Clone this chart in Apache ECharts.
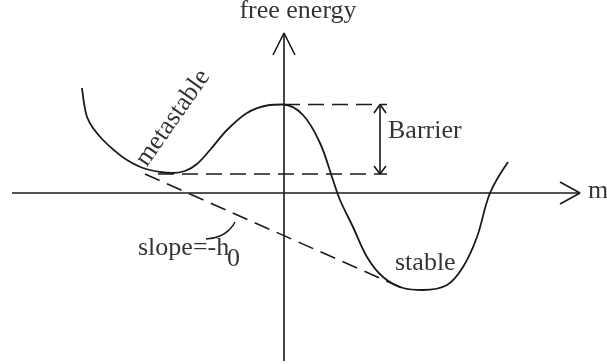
<!DOCTYPE html>
<html>
<head>
<meta charset="utf-8">
<script src="https://cdn.jsdelivr.net/npm/echarts@6/dist/echarts.min.js"></script>
<style>
html, body { margin: 0; padding: 0; background: #fff; }
#chart { width: 607px; height: 364px; }
</style>
</head>
<body>
<div id="chart"></div>
<script>
// free energy vs m, origin where the two axes cross
const curve = [
    [-202, 105], [-200, 90], [-197, 76], [-191, 65], [-181, 53], [-169, 42],
    [-157, 33], [-141, 25], [-124, 21], [-112, 20], [-99, 22], [-87, 29],
    [-74, 43], [-57, 63], [-37, 80], [-17, 87.5], [-1, 88.5], [19, 78],
    [36, 50], [49, 13], [56, -7], [69, -34], [83, -64], [99, -84],
    [119, -95], [139, -97], [163, -92], [179, -74], [193, -44], [206, 0], [224, 31]
];
const mAxis = [[-272, 0], [296, 0]];
const fAxis = [[0, -168], [0, 160]];
const mArrow = [[276, 11], [296, 0], [276, -11]];
const fArrow = [[-11, 138], [0, 160], [11, 138]];
const barrierTop = [[0, 88.5], [103, 88.5]];
const barrierBottom = [[-126, 19], [103, 19]];
const tangent = [[-139, 19], [118, -95]];
const barrierArrow = [[96, 88.5], [96, 19]];
const barrierHeadTop = [[90, 80], [96, 88.5], [102, 80]];
const barrierHeadBottom = [[90, 27], [96, 19], [102, 27]];
const slopeArc = [[-78, -46], [-64, -43], [-54, -36], [-49, -29]];

// text: x, y, string, align, rotation
const labelPos = [[14, 181.5], [304, 1.5], [104, 61.5], [111, -70.5], [-146, -55.5], [-57, -66.5], [-111, 75]];
const labelText = ['free energy', 'm', 'Barrier', 'stable', 'slope=-h', '0', 'metastable'];
const labelAlign = ['center', 'left', 'left', 'left', 'left', 'left', 'center'];
const labelRotate = [0, 0, 0, 0, 0, 0, 55];

const ink = '#1a1a1a';

function path(data, width, dashed) {
    return {
        type: 'line',
        data: data,
        symbol: 'none',
        smooth: false,
        silent: true,
        lineStyle: { color: ink, width: width, type: dashed ? [16, 8] : 'solid' }
    };
}

const chart = echarts.init(document.getElementById('chart'));

const texts = labelPos.map((p, i) => ({
    value: [p[0], p[1]],
    label: {
        show: true,
        position: 'inside',
        formatter: labelText[i],
        align: labelAlign[i],
        verticalAlign: 'middle',
        rotate: labelRotate[i]
    }
}));

const curveSeries = path(curve, 1.8, false);
curveSeries.smooth = 0.35;
const arcSeries = path(slopeArc, 1.5, false);
arcSeries.smooth = 0.5;

const option = {
    animation: false,
    grid: { left: 0, right: 0, top: 0, bottom: 0 },
    xAxis: {
        type: 'value', min: -284, max: 323,
        axisLine: { show: false }, axisTick: { show: false },
        axisLabel: { show: false }, splitLine: { show: false }
    },
    yAxis: {
        type: 'value', min: -171, max: 193,
        axisLine: { show: false }, axisTick: { show: false },
        axisLabel: { show: false }, splitLine: { show: false }
    },
    series: [
        path(mAxis, 1.6, false),
        path(fAxis, 1.6, false),
        path(mArrow, 1.6, false),
        path(fArrow, 1.6, false),
        path(barrierTop, 1.6, true),
        path(barrierBottom, 1.6, true),
        path(tangent, 1.6, true),
        path(barrierArrow, 1.6, false),
        path(barrierHeadTop, 1.6, false),
        path(barrierHeadBottom, 1.6, false),
        arcSeries,
        curveSeries,
        {
            type: 'scatter',
            symbolSize: 0,
            clip: false,
            silent: true,
            data: texts,
            label: {
                color: '#000',
                textBorderWidth: 0,
                fontFamily: 'Liberation Serif',
                fontSize: 26
            }
        }
    ]
};

chart.setOption(option);
window.onresize = () => {
    chart.resize();
};
</script>
</body>
</html>
